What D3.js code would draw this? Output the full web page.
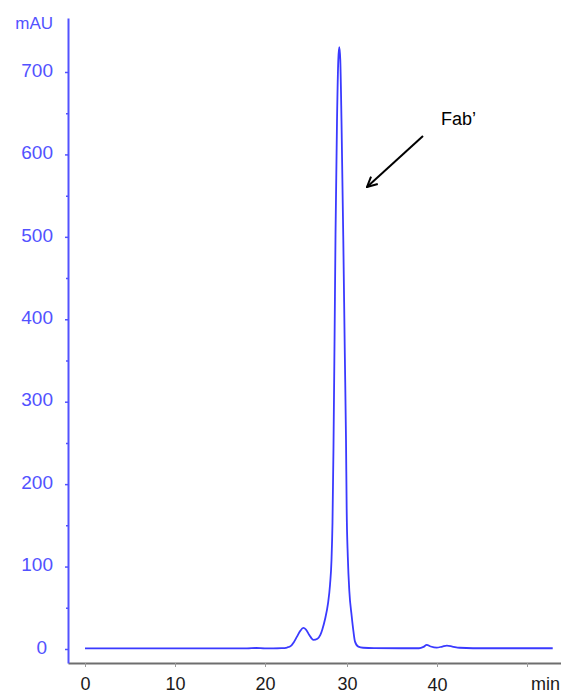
<!DOCTYPE html>
<html>
<head>
<meta charset="utf-8">
<script src="https://cdn.jsdelivr.net/npm/d3@7"></script>
<style>
  body { margin: 0; background: #fff; }
  svg { display: block; font-family: "Liberation Sans", Arial, sans-serif; }
</style>
</head>
<body>
<svg id="chart" width="561" height="693"></svg>
<script>
// retention time (min) and absorbance (mAU)
const times = [0, 10, 18, 19, 20, 21, 22, 22.7, 23.2, 23.5, 23.9, 24.3, 24.67, 25.0, 25.4, 25.9,
  26.4, 26.75, 27.0, 27.32, 27.68, 27.93, 28.11, 28.23, 28.35, 28.48, 28.6, 28.78, 28.94, 29.06,
  29.18, 29.33, 29.55, 29.73, 29.88, 29.96, 30.09, 30.26, 30.52, 30.72, 30.89, 31.26, 31.8, 33,
  36, 38.0, 38.5, 38.86, 39.3, 39.97, 40.6, 41.1, 41.7, 42.5, 44, 47, 50, 52.86]
const mau = [0.8, 0.8, 0.8, 1.2, 0.8, 0.8, 1.0, 1.8, 4, 8, 15, 22, 25.5, 23.5, 17, 11,
  12.5, 17, 24, 36, 55, 78, 108, 153, 243, 373, 503, 640, 715, 730,
  715, 640, 496, 360, 253, 170, 112, 70, 40, 21, 8.9, 2.8, 1.5, 1.0,
  0.9, 0.9, 2.5, 4.9, 3, 1.6, 3, 4, 3, 1.5, 0.9, 0.9, 0.9, 0.9]

const yMajor = [0, 100, 200, 300, 400, 500, 600, 700]
const yMinor = [50, 150, 250, 350, 450, 550, 650]
const xTicks = [0, 10, 20, 30, 40, 50]
const xLabels = ['0', '10', '20', '30', '40', '']

const svg = d3.select('#chart')
const blue = '#5252ff'

const x = d3.scaleLinear()
  .domain([-1.889, 0, 20, 30, 50, 53.78])
  .range([68, 85, 265, 347, 527, 561])

const y = d3.scaleLinear()
  .domain([-17, 765.5])
  .range([663, 18])

// x axis (grey)
const xAxisG = svg.append('g')
  .attr('transform', 'translate(0,663)')
  .call(d3.axisBottom(x).tickValues(xTicks).tickSize(4).tickSizeOuter(0)
    .tickFormat((d, i) => xLabels[i]))

xAxisG.select('.domain').attr('stroke', '#6e6e6e').attr('stroke-width', 2)
xAxisG.selectAll('.tick line').attr('stroke', '#9a9a9a')
xAxisG.selectAll('.tick text')
  .attr('fill', '#1a1a1a')
  .style('font-size', '18px')
  .attr('y', 0)
  .attr('dy', (d) => d === 40 ? 27.5 : 26.5)

svg.append('text')
  .attr('x', 531)
  .attr('y', 690)
  .attr('fill', '#1a1a1a')
  .style('font-size', '18px')
  .text('min')

// y axis (blue)
const yAxisG = svg.append('g')
  .attr('transform', 'translate(68,0)')
  .call(d3.axisLeft(y).tickValues(yMajor).tickSize(3).tickSizeOuter(0).tickPadding(12))

yAxisG.select('.domain').attr('stroke', blue).attr('stroke-width', 2)
yAxisG.selectAll('.tick line').attr('stroke', blue).attr('stroke-width', 1.5)
yAxisG.selectAll('.tick text')
  .attr('fill', blue)
  .style('font-size', '19px')
  .attr('dy', '0.22em')
  .attr('dx', (d) => d === 0 ? -6 : 0)

const yMinorG = svg.append('g')
  .attr('transform', 'translate(68,0)')
  .call(d3.axisLeft(y).tickValues(yMinor).tickSize(2).tickFormat(''))
yMinorG.select('.domain').remove()
yMinorG.selectAll('.tick line').attr('stroke', blue).attr('stroke-width', 1.5)

svg.append('text')
  .attr('x', 53)
  .attr('y', 29)
  .attr('text-anchor', 'end')
  .attr('fill', blue)
  .style('font-size', '17px')
  .text('mAU')

// chromatogram trace
const points = times.map((t, i) => [t, mau[i]])
const line = d3.line()
  .x(d => x(d[0]))
  .y(d => y(d[1]))
  .curve(d3.curveMonotoneX)

svg.append('path')
  .datum(points)
  .attr('d', line)
  .attr('fill', 'none')
  .attr('stroke', '#3a3aff')
  .attr('stroke-width', 1.8)
  .attr('stroke-linejoin', 'round')

// annotation
svg.append('defs').append('marker')
  .attr('id', 'arrowhead')
  .attr('viewBox', '0 0 12 12')
  .attr('refX', 11)
  .attr('refY', 6)
  .attr('markerWidth', 12)
  .attr('markerHeight', 12)
  .attr('markerUnits', 'userSpaceOnUse')
  .attr('orient', 'auto')
  .append('path')
  .attr('d', 'M1,1 L11,6 L1,11')
  .attr('fill', 'none')
  .attr('stroke', '#000')
  .attr('stroke-width', 2)

svg.append('line')
  .attr('x1', 423)
  .attr('y1', 136)
  .attr('x2', 367)
  .attr('y2', 187)
  .attr('stroke', '#000')
  .attr('stroke-width', 2)
  .attr('marker-end', 'url(#arrowhead)')

svg.append('text')
  .attr('x', 441)
  .attr('y', 125)
  .attr('fill', '#000')
  .style('font-size', '18px')
  .text('Fab’')
</script>
</body>
</html>
